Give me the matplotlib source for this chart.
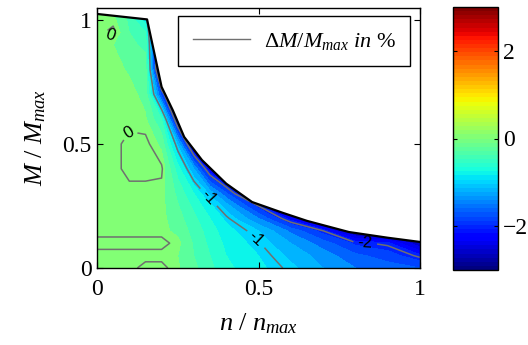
import numpy as np
import matplotlib
matplotlib.use("Agg")
import matplotlib.pyplot as plt
from matplotlib.patches import Polygon
from matplotlib.lines import Line2D
from matplotlib.cm import ScalarMappable
from matplotlib.colors import Normalize

plt.rcParams["font.family"] = ["Liberation Serif", "DejaVu Serif"]
plt.rcParams["mathtext.fontset"] = "custom"
plt.rcParams["mathtext.rm"] = "Liberation Serif"
plt.rcParams["mathtext.it"] = "Liberation Serif:italic"

n_grid = [0, 0.05, 0.1, 0.15, 0.2, 0.25, 0.3, 0.35, 0.4, 0.5, 0.6, 0.7, 0.8, 0.9, 1.0]
m_grid = [0, 0.05, 0.1, 0.15, 0.2, 0.25, 0.3, 0.4, 0.5, 0.6, 0.7, 0.8, 0.9, 0.95, 1.0, 1.05]

# torque deviation dM/Mmax in %, one row per m_grid value
dm_rows = [
    [-0.05, -0.05, -0.05, 0.05, 0.05, -0.08, -0.25, -0.45, -0.65, -0.85, -1.05, -1.3, -1.5, -1.6, -1.7],
    [-0.05, -0.05, -0.05, -0.05, -0.05, -0.1, -0.3, -0.5, -0.7, -0.9, -1.15, -1.4, -1.65, -1.8, -2.05],
    [0.05, 0.05, 0.05, 0.05, 0.05, -0.05, -0.33, -0.55, -0.75, -0.98, -1.3, -1.6, -1.95, -2.05, -2.7],
    [-0.05, -0.05, -0.05, -0.05, -0.05, -0.15, -0.38, -0.6, -0.82, -1.1, -1.55, -2.0, -2.9, -3.0, -3.0],
    [-0.05, -0.05, -0.05, -0.05, -0.05, -0.22, -0.45, -0.7, -0.95, -1.5, -2.2, -2.9, -3.0, -3.0, -3.0],
    [-0.05, -0.05, -0.05, -0.05, -0.05, -0.28, -0.55, -0.85, -1.2, -2.0, -3.0, -3.0, -3.0, -3.0, -3.0],
    [-0.05, -0.05, -0.05, -0.05, -0.05, -0.35, -0.7, -1.15, -1.65, -3.0, -3.0, -3.0, -3.0, -3.0, -3.0],
    [-0.05, -0.05, 0.05, 0.05, 0.03, -0.6, -1.3, -2.3, -3.0, -3.0, -3.0, -3.0, -3.0, -3.0, -3.0],
    [-0.05, -0.05, 0.05, 0.05, -0.15, -1.15, -2.6, -3.0, -3.0, -3.0, -3.0, -3.0, -3.0, -3.0, -3.0],
    [-0.05, -0.05, -0.05, -0.08, -0.5, -2.4, -3.0, -3.0, -3.0, -3.0, -3.0, -3.0, -3.0, -3.0, -3.0],
    [-0.05, -0.05, -0.05, -0.15, -1.8, -3.0, -3.0, -3.0, -3.0, -3.0, -3.0, -3.0, -3.0, -3.0, -3.0],
    [-0.05, -0.05, -0.12, -0.2, -3.0, -3.0, -3.0, -3.0, -3.0, -3.0, -3.0, -3.0, -3.0, -3.0, -3.0],
    [-0.05, -0.1, -0.25, -0.35, -3.0, -3.0, -3.0, -3.0, -3.0, -3.0, -3.0, -3.0, -3.0, -3.0, -3.0],
    [-0.05, 0.05, -0.3, -0.5, -3.0, -3.0, -3.0, -3.0, -3.0, -3.0, -3.0, -3.0, -3.0, -3.0, -3.0],
    [-0.05, -0.05, -0.35, -0.8, -3.0, -3.0, -3.0, -3.0, -3.0, -3.0, -3.0, -3.0, -3.0, -3.0, -3.0],
    [-0.15, -0.15, -0.4, -1.5, -3.0, -3.0, -3.0, -3.0, -3.0, -3.0, -3.0, -3.0, -3.0, -3.0, -3.0],
]

# full-load torque limit
n_limit = [0, 0.155, 0.2, 0.235, 0.27, 0.325, 0.4, 0.48, 0.576, 0.65, 0.78, 0.9, 1.0]
m_limit = [1.024, 1.002, 0.73, 0.635, 0.528, 0.435, 0.34, 0.266, 0.222, 0.19, 0.145, 0.122, 0.105]

line_levels = [-2, -1, 0]
label_spots = [(0.04, 0.935), (0.095, 0.55), (0.35, 0.29), (0.495, 0.12), (0.83, 0.09)]

jet = plt.get_cmap("jet", 64)
norm = Normalize(-3, 3)

fig = plt.figure(figsize=(5.28, 3.45), dpi=100)
ax = fig.add_axes([97 / 528, 77 / 345, 323 / 528, 260.5 / 345])

Z = np.array(dm_rows)
# bands centred on whole tenths so that ~0 reads as the pure light green of jet
cf = ax.contourf(n_grid, m_grid, Z, levels=np.linspace(-3.1, 3.1, 32), cmap=jet, norm=norm)
cs = ax.contour(n_grid, m_grid, Z, levels=line_levels, colors="#707070",
                linewidths=1.1, linestyles="solid")

ax.set_xlim(0, 1)
ax.set_ylim(0, 1.05)

region = Polygon(list(zip([0] + n_limit + [1], [0] + m_limit + [0])), closed=True,
                 transform=ax.transData, fc="none", ec="none")
cf.set_clip_path(region)
cs.set_clip_path(region)

labels = ax.clabel(cs, manual=label_spots, inline=True, fmt="%d", fontsize=12, colors="k")
for t in labels:
    t.set_family("Liberation Sans")

ax.plot(n_limit, m_limit, color="k", lw=1.6)

ax.set_xticks([0, 0.5, 1])
ax.set_xticklabels(["0", "0.5", "1"])
ax.set_yticks([0, 0.5, 1])
ax.set_yticklabels(["0", "0.5", "1"])
ax.tick_params(direction="in", top=True, right=True, length=4, labelsize=17)
ax.tick_params(axis="x", pad=8)
ax.tick_params(axis="y", pad=4)
for sp in ax.spines.values():
    sp.set_linewidth(1.0)
ax.set_xlabel(r"$n\ /\ n_{max}$", fontsize=19, labelpad=8)
ax.set_ylabel(r"$M\ /\ M_{max}$", fontsize=19, labelpad=10)

handle = Line2D([], [], color="#707070", lw=1.0)
leg = ax.legend([handle], [r"$\Delta M/M_{max}\ in\ \%$"], loc="upper right",
                bbox_to_anchor=(0.969, 0.967), borderaxespad=0, fontsize=16,
                handlelength=2.6, handletextpad=0.6, borderpad=0.65,
                fancybox=False, framealpha=1, edgecolor="k")
leg.get_frame().set_linewidth(1.0)

cax = fig.add_axes([453 / 528, 75 / 345, 45 / 528, 263 / 345])
cb = fig.colorbar(ScalarMappable(norm=norm, cmap=jet), cax=cax, ticks=[-2, 0, 2])
cb.ax.tick_params(direction="in", left=True, right=True, length=3, labelsize=17)
cb.outline.set_linewidth(1.0)

fig.savefig("out.png", dpi=100)
